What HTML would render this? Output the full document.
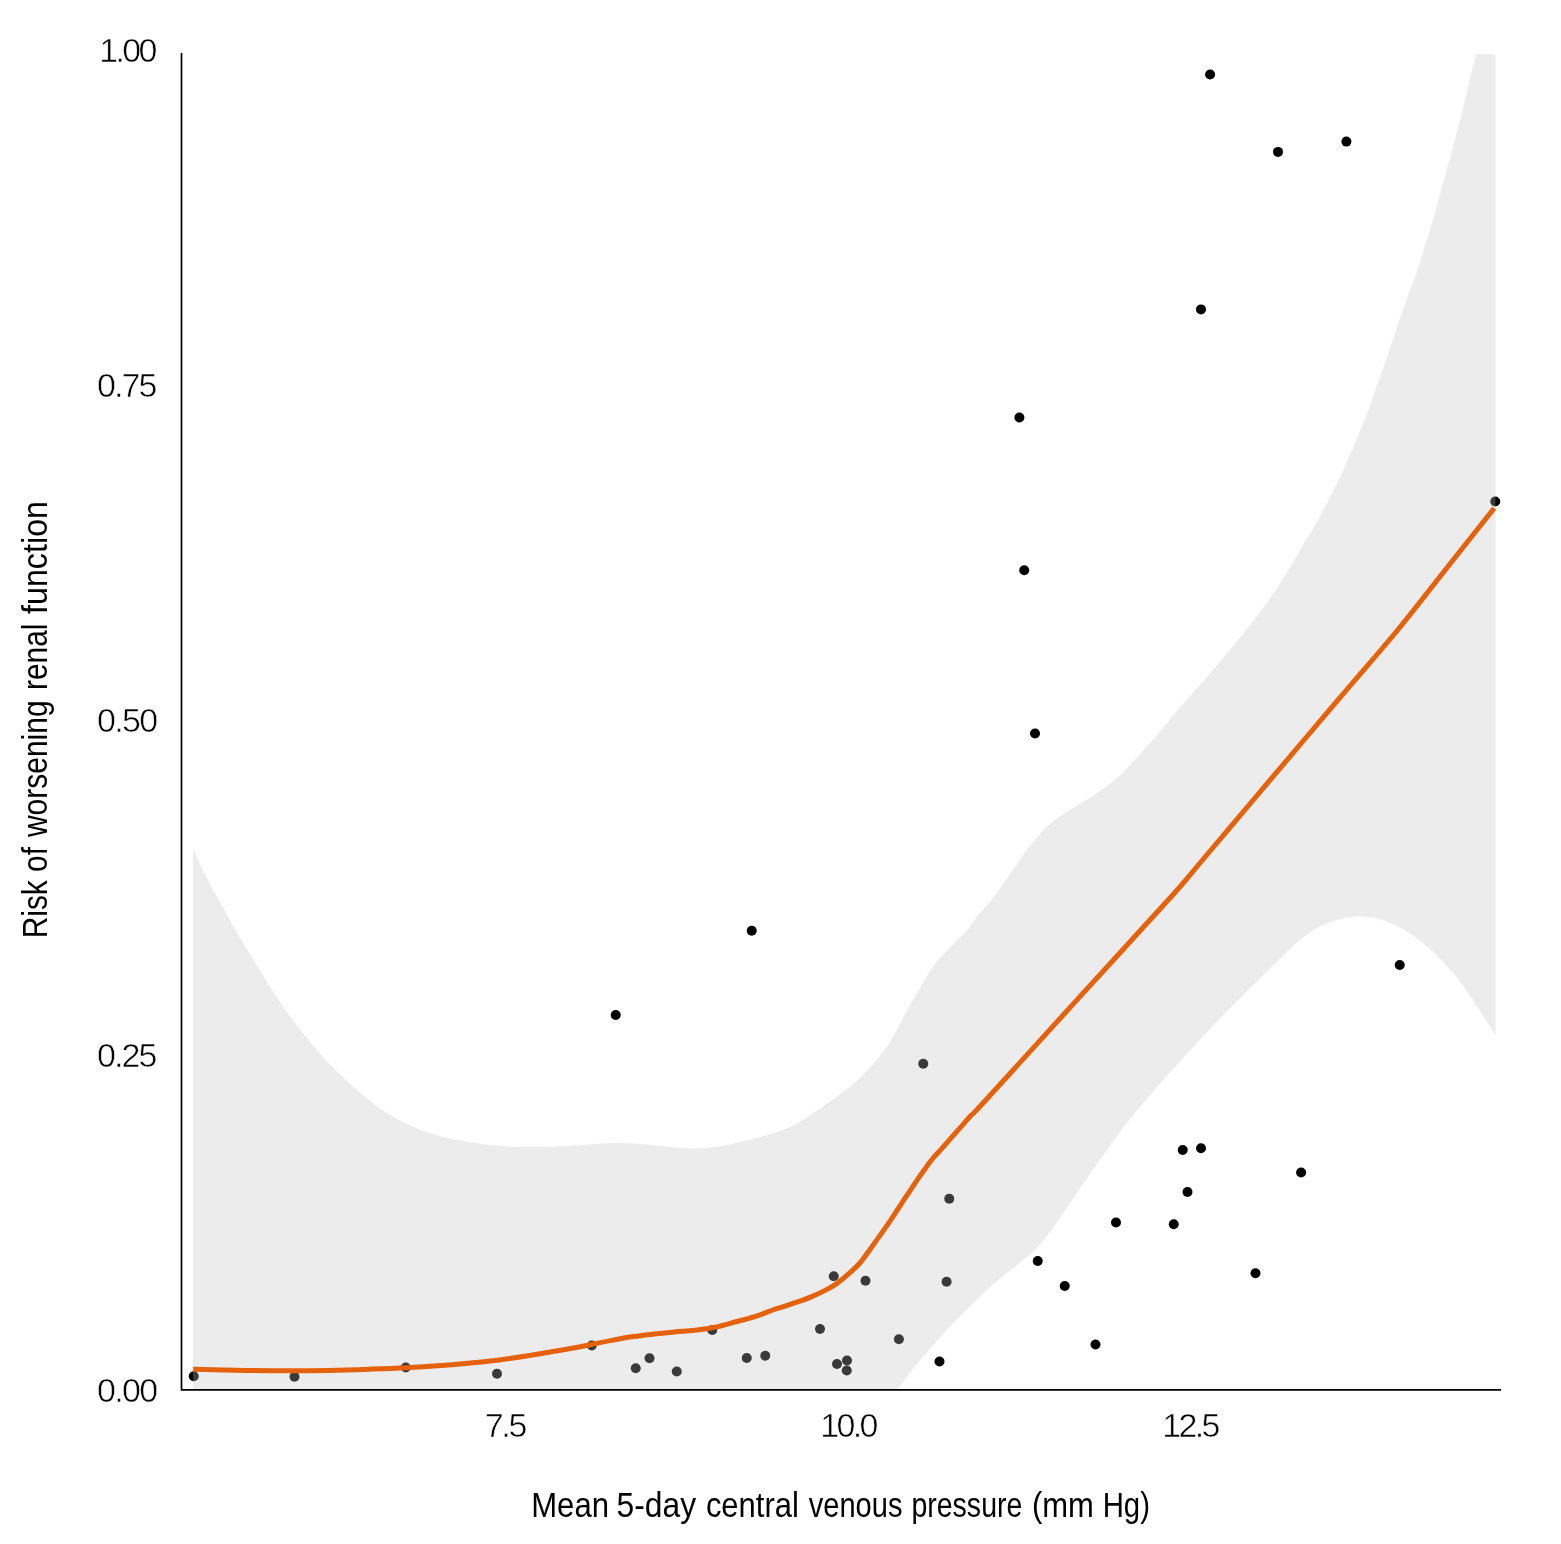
<!DOCTYPE html>
<html lang="en">
<head>
<meta charset="utf-8">
<title>Risk of worsening renal function vs mean 5-day central venous pressure</title>
<style>
html,body{margin:0;padding:0;background:#fff;}
body{width:1561px;height:1544px;overflow:hidden;}
svg{display:block;}
</style>
</head>
<body>
<svg width="1561" height="1544" viewBox="0 0 1561 1544">
<rect width="1561" height="1544" fill="#fff"/>
<g fill="#000"><circle cx="1210.10" cy="74.50" r="5"/><circle cx="1278.00" cy="151.90" r="5"/><circle cx="1346.40" cy="141.60" r="5"/><circle cx="1201.00" cy="309.40" r="5"/><circle cx="1019.40" cy="417.50" r="5"/><circle cx="1024.25" cy="570.25" r="5"/><circle cx="1035.00" cy="733.50" r="5"/><circle cx="1495.25" cy="501.50" r="5"/><circle cx="751.75" cy="930.75" r="5"/><circle cx="615.75" cy="1015.00" r="5"/><circle cx="1399.75" cy="965.00" r="5"/><circle cx="923.25" cy="1063.75" r="5"/><circle cx="949.25" cy="1198.75" r="5"/><circle cx="1182.75" cy="1150.00" r="5"/><circle cx="1201.00" cy="1148.25" r="5"/><circle cx="1301.10" cy="1172.50" r="5"/><circle cx="1187.50" cy="1192.00" r="5"/><circle cx="193.75" cy="1376.25" r="5"/><circle cx="294.50" cy="1376.75" r="5"/><circle cx="405.75" cy="1367.50" r="5"/><circle cx="497.00" cy="1373.75" r="5"/><circle cx="833.75" cy="1276.25" r="5"/><circle cx="865.50" cy="1280.75" r="5"/><circle cx="946.60" cy="1281.75" r="5"/><circle cx="820.00" cy="1329.00" r="5"/><circle cx="898.90" cy="1339.25" r="5"/><circle cx="712.25" cy="1330.00" r="5"/><circle cx="591.75" cy="1345.50" r="5"/><circle cx="649.50" cy="1358.25" r="5"/><circle cx="635.75" cy="1368.25" r="5"/><circle cx="676.75" cy="1371.50" r="5"/><circle cx="746.75" cy="1358.00" r="5"/><circle cx="765.25" cy="1355.75" r="5"/><circle cx="837.00" cy="1364.00" r="5"/><circle cx="847.00" cy="1360.50" r="5"/><circle cx="846.75" cy="1370.50" r="5"/><circle cx="939.50" cy="1361.50" r="5"/><circle cx="1037.75" cy="1261.00" r="5"/><circle cx="1064.75" cy="1286.00" r="5"/><circle cx="1095.50" cy="1344.50" r="5"/><circle cx="1116.00" cy="1222.50" r="5"/><circle cx="1173.75" cy="1224.25" r="5"/><circle cx="1255.50" cy="1273.25" r="5"/></g>
<path d="M193.00,848.75 C195.00,853.04 198.67,862.29 205.00,874.50 C211.33,886.71 222.45,907.00 231.00,922.00 C239.55,937.00 247.88,950.75 256.30,964.50 C264.72,978.25 273.22,992.42 281.50,1004.50 C289.78,1016.58 297.92,1027.00 306.00,1037.00 C314.08,1047.00 321.83,1055.96 330.00,1064.50 C338.17,1073.04 346.67,1080.96 355.00,1088.25 C363.33,1095.54 371.67,1102.42 380.00,1108.25 C388.33,1114.08 396.67,1119.08 405.00,1123.25 C413.33,1127.42 421.67,1130.54 430.00,1133.25 C438.33,1135.96 446.67,1137.75 455.00,1139.50 C463.33,1141.25 471.67,1142.62 480.00,1143.75 C488.33,1144.88 496.67,1145.71 505.00,1146.25 C513.33,1146.79 519.17,1147.04 530.00,1147.00 C540.83,1146.96 559.17,1146.50 570.00,1146.00 C580.83,1145.50 586.67,1144.50 595.00,1144.00 C603.33,1143.50 611.67,1142.93 620.00,1143.00 C628.33,1143.07 636.67,1143.73 645.00,1144.40 C653.33,1145.07 661.67,1146.32 670.00,1147.00 C678.33,1147.68 686.67,1148.62 695.00,1148.50 C703.33,1148.38 712.50,1147.33 720.00,1146.25 C727.50,1145.17 733.25,1143.56 740.00,1142.00 C746.75,1140.44 753.67,1138.78 760.50,1136.90 C767.33,1135.02 775.87,1132.42 781.00,1130.70 C786.13,1128.98 787.88,1128.22 791.30,1126.60 C794.72,1124.98 798.08,1123.05 801.50,1121.00 C804.92,1118.95 808.38,1116.62 811.80,1114.30 C815.22,1111.98 818.58,1109.48 822.00,1107.10 C825.42,1104.72 828.88,1102.47 832.30,1100.00 C835.72,1097.53 839.55,1094.52 842.50,1092.30 C845.45,1090.08 847.02,1089.18 850.00,1086.70 C852.98,1084.22 857.38,1080.25 860.40,1077.40 C863.42,1074.55 865.52,1072.37 868.10,1069.60 C870.68,1066.83 873.30,1063.92 875.90,1060.80 C878.50,1057.68 881.10,1054.45 883.70,1050.90 C886.30,1047.35 888.92,1043.82 891.50,1039.50 C894.08,1035.18 896.62,1029.83 899.20,1025.00 C901.78,1020.17 904.25,1015.45 907.00,1010.50 C909.75,1005.55 912.95,1000.08 915.70,995.30 C918.45,990.52 920.90,986.12 923.50,981.80 C926.10,977.48 928.72,973.20 931.30,969.40 C933.88,965.60 936.42,962.12 939.00,959.00 C941.58,955.88 944.20,953.47 946.80,950.70 C949.40,947.93 952.00,944.98 954.60,942.40 C957.20,939.82 960.25,937.27 962.40,935.20 C964.55,933.13 965.32,932.72 967.50,930.00 C969.68,927.28 972.87,922.30 975.50,918.90 C978.13,915.50 980.70,912.70 983.30,909.60 C985.90,906.50 988.50,903.58 991.10,900.30 C993.70,897.02 996.32,893.45 998.90,889.90 C1001.48,886.35 1004.02,882.72 1006.60,879.00 C1009.18,875.28 1011.80,871.32 1014.40,867.60 C1017.00,863.88 1019.67,860.20 1022.20,856.70 C1024.73,853.20 1026.22,850.84 1029.60,846.60 C1032.98,842.36 1038.27,835.68 1042.50,831.25 C1046.73,826.82 1050.83,823.33 1055.00,820.00 C1059.17,816.67 1063.33,813.96 1067.50,811.25 C1071.67,808.54 1075.83,806.25 1080.00,803.75 C1084.17,801.25 1088.33,798.96 1092.50,796.25 C1096.67,793.54 1100.83,790.62 1105.00,787.50 C1109.17,784.38 1113.33,781.25 1117.50,777.50 C1121.67,773.75 1125.83,769.38 1130.00,765.00 C1134.17,760.62 1138.33,755.83 1142.50,751.25 C1146.67,746.67 1150.83,742.29 1155.00,737.50 C1159.17,732.71 1163.33,727.50 1167.50,722.50 C1171.67,717.50 1172.92,715.67 1180.00,707.50 C1187.08,699.33 1200.83,684.17 1210.00,673.50 C1219.17,662.83 1226.67,653.71 1235.00,643.50 C1243.33,633.29 1251.67,623.50 1260.00,612.25 C1268.33,601.00 1278.23,586.51 1285.00,576.00 C1291.77,565.49 1295.47,557.87 1300.60,549.20 C1305.73,540.53 1311.03,532.42 1315.80,524.00 C1320.57,515.58 1325.00,506.83 1329.20,498.70 C1333.40,490.57 1337.07,483.62 1341.00,475.20 C1344.93,466.78 1348.87,457.47 1352.80,448.20 C1356.73,438.93 1360.67,429.70 1364.60,419.60 C1368.53,409.50 1372.48,398.53 1376.40,387.60 C1380.32,376.67 1384.18,365.50 1388.10,354.00 C1392.02,342.50 1396.25,329.27 1399.90,318.60 C1403.55,307.93 1407.02,298.27 1410.00,290.00 C1412.98,281.73 1415.08,277.00 1417.80,269.00 C1420.52,261.00 1423.48,251.27 1426.30,242.00 C1429.12,232.73 1431.90,223.22 1434.70,213.40 C1437.50,203.58 1440.30,193.20 1443.10,183.10 C1445.90,173.00 1448.70,163.18 1451.50,152.80 C1454.30,142.42 1457.08,132.02 1459.90,120.80 C1462.72,109.58 1465.73,96.58 1468.40,85.50 C1471.07,74.42 1474.65,59.50 1475.90,54.30 L1495.50,54.50 L1495.50,1035.50 C1492.73,1031.13 1484.12,1017.35 1478.90,1009.30 C1473.68,1001.25 1469.12,993.95 1464.20,987.20 C1459.28,980.45 1454.32,974.43 1449.40,968.80 C1444.48,963.17 1439.60,958.07 1434.70,953.40 C1429.80,948.73 1424.92,944.62 1420.00,940.80 C1415.08,936.98 1410.12,933.43 1405.20,930.50 C1400.28,927.57 1395.40,925.23 1390.50,923.20 C1385.60,921.17 1380.47,919.42 1375.80,918.30 C1371.13,917.18 1366.18,916.75 1362.50,916.50 C1358.82,916.25 1357.63,916.30 1353.70,916.80 C1349.77,917.30 1343.82,918.20 1338.90,919.50 C1333.98,920.80 1329.10,922.40 1324.20,924.60 C1319.30,926.80 1314.42,929.38 1309.50,932.70 C1304.58,936.02 1299.87,939.87 1294.70,944.50 C1289.53,949.13 1284.20,954.95 1278.50,960.50 C1272.80,966.05 1266.20,972.22 1260.50,977.80 C1254.80,983.38 1249.70,988.62 1244.30,994.00 C1238.90,999.38 1233.50,1004.57 1228.10,1010.10 C1222.70,1015.63 1217.30,1021.52 1211.90,1027.20 C1206.50,1032.88 1201.10,1038.40 1195.70,1044.20 C1190.30,1050.00 1184.90,1056.07 1179.50,1062.00 C1174.10,1067.93 1168.68,1073.73 1163.30,1079.80 C1157.92,1085.87 1152.58,1092.07 1147.20,1098.40 C1141.82,1104.73 1136.40,1111.05 1131.00,1117.80 C1125.60,1124.55 1120.27,1131.48 1114.80,1138.90 C1109.33,1146.32 1103.03,1155.48 1098.20,1162.30 C1093.37,1169.12 1090.03,1173.70 1085.80,1179.80 C1081.57,1185.90 1077.05,1192.62 1072.80,1198.90 C1068.55,1205.18 1064.45,1211.55 1060.30,1217.50 C1056.15,1223.45 1052.05,1229.28 1047.90,1234.60 C1043.75,1239.92 1040.07,1244.73 1035.40,1249.40 C1030.73,1254.07 1025.07,1258.33 1019.90,1262.60 C1014.73,1266.87 1009.58,1270.73 1004.40,1275.00 C999.22,1279.27 993.98,1283.53 988.80,1288.20 C983.62,1292.87 978.48,1297.93 973.30,1303.00 C968.12,1308.07 962.88,1313.28 957.70,1318.60 C952.52,1323.92 947.38,1329.20 942.20,1334.90 C937.02,1340.60 931.78,1346.72 926.60,1352.80 C921.42,1358.88 915.93,1365.37 911.10,1371.40 C906.27,1377.43 899.85,1386.07 897.60,1389.00 L193.00,1389.00 Z" fill="#bfbfbf" fill-opacity="0.3"/>
<path d="M193.20,1369.20 C202.08,1369.40 230.78,1370.13 246.50,1370.40 C262.22,1370.67 273.83,1370.80 287.50,1370.80 C301.17,1370.80 314.83,1370.67 328.50,1370.40 C342.17,1370.13 356.52,1369.66 369.50,1369.20 C382.48,1368.74 392.73,1368.40 406.40,1367.65 C420.07,1366.90 437.57,1365.79 451.50,1364.69 C465.43,1363.60 476.75,1362.65 490.00,1361.08 C503.25,1359.51 517.33,1357.38 531.00,1355.25 C544.67,1353.12 561.75,1350.14 572.00,1348.30 C582.25,1346.46 585.67,1345.59 592.50,1344.23 C599.33,1342.87 606.17,1341.43 613.00,1340.16 C619.83,1338.89 626.67,1337.61 633.50,1336.59 C640.33,1335.57 647.17,1334.85 654.00,1334.07 C660.83,1333.29 667.67,1332.56 674.50,1331.93 C681.33,1331.30 688.17,1331.08 695.00,1330.28 C701.83,1329.48 708.67,1328.57 715.50,1327.14 C722.33,1325.72 730.58,1323.16 736.00,1321.73 C741.42,1320.30 744.00,1319.69 748.00,1318.54 C752.00,1317.39 755.87,1316.27 760.00,1314.85 C764.13,1313.43 768.53,1311.48 772.80,1310.00 C777.07,1308.52 781.33,1307.37 785.60,1305.98 C789.87,1304.59 794.13,1303.20 798.40,1301.68 C802.67,1300.16 806.92,1298.69 811.20,1296.89 C815.48,1295.09 819.82,1293.14 824.10,1290.90 C828.38,1288.66 832.63,1286.42 836.90,1283.43 C841.17,1280.44 845.87,1276.37 849.70,1272.96 C853.53,1269.56 856.53,1266.88 859.90,1263.00 C863.27,1259.12 866.93,1253.73 869.90,1249.66 C872.87,1245.60 875.10,1242.27 877.70,1238.61 C880.30,1234.94 882.90,1231.43 885.50,1227.67 C888.10,1223.91 890.72,1219.96 893.30,1216.06 C895.88,1212.16 898.42,1208.18 901.00,1204.27 C903.58,1200.36 906.20,1196.50 908.80,1192.59 C911.40,1188.68 914.00,1184.61 916.60,1180.80 C919.20,1176.99 921.82,1173.30 924.40,1169.71 C926.98,1166.12 929.52,1162.43 932.10,1159.24 C934.68,1156.05 937.30,1153.47 939.90,1150.57 C942.50,1147.66 945.12,1144.73 947.70,1141.81 C950.28,1138.89 952.82,1135.98 955.40,1133.07 C957.98,1130.15 960.60,1127.24 963.20,1124.32 C965.80,1121.40 967.33,1119.50 971.00,1115.57 C974.67,1111.63 967.62,1119.90 985.20,1100.71 C1002.78,1081.52 1045.97,1033.88 1076.50,1000.40 C1107.03,966.91 1147.82,922.70 1168.40,899.80 C1188.98,876.90 1186.07,879.38 1200.00,863.00 C1213.93,846.62 1234.67,822.00 1252.00,801.50 C1269.33,781.00 1287.53,759.42 1304.00,740.00 C1320.47,720.58 1335.18,703.33 1350.80,685.00 C1366.42,666.67 1381.83,649.33 1397.70,630.00 C1413.57,610.67 1429.92,589.30 1446.00,569.00 C1462.08,548.70 1486.17,518.33 1494.20,508.20" fill="none" stroke="#e5610b" stroke-width="5" stroke-linejoin="round"/>
<path d="M181.5,53 V1389.95 H1501" fill="none" stroke="#000" stroke-width="1.7" stroke-linejoin="miter"/>
<g font-family="'Liberation Sans', sans-serif" font-size="34" fill="#000" stroke="#fff" stroke-width="0.55">
<text x="99.20" y="62" textLength="58.18" lengthAdjust="spacing">1.00</text>
<text x="97.00" y="397" textLength="60.39" lengthAdjust="spacing">0.75</text>
<text x="97.00" y="732" textLength="61.18" lengthAdjust="spacing">0.50</text>
<text x="97.00" y="1067" textLength="60.39" lengthAdjust="spacing">0.25</text>
<text x="97.00" y="1402" textLength="61.18" lengthAdjust="spacing">0.00</text>
<text x="484.80" y="1437" textLength="42.60" lengthAdjust="spacing">7.5</text>
<text x="820.20" y="1437" textLength="58.18" lengthAdjust="spacing">10.0</text>
<text x="1162.30" y="1437" textLength="58.02" lengthAdjust="spacing">12.5</text>
</g>
<g font-family="'Liberation Sans', sans-serif" font-size="35" fill="#000" stroke="#fff" stroke-width="0">
<text y="1517"><tspan x="531.20" textLength="77.81" lengthAdjust="spacingAndGlyphs">Mean</tspan> <tspan x="616.50" textLength="79.55" lengthAdjust="spacingAndGlyphs">5-day</tspan> <tspan x="705.90" textLength="92.91" lengthAdjust="spacingAndGlyphs">central</tspan> <tspan x="808.70" textLength="93.73" lengthAdjust="spacingAndGlyphs">venous</tspan> <tspan x="911.40" textLength="110.96" lengthAdjust="spacingAndGlyphs">pressure</tspan> <tspan x="1031.90" textLength="61.93" lengthAdjust="spacingAndGlyphs">(mm</tspan> <tspan x="1102.70" textLength="47.27" lengthAdjust="spacingAndGlyphs">Hg)</tspan></text>
<text transform="translate(47,0) rotate(-90)" y="0"><tspan x="-938.30" textLength="91.33" lengthAdjust="spacingAndGlyphs">Risk of</tspan> <tspan x="-837.10" textLength="136.73" lengthAdjust="spacingAndGlyphs">worsening</tspan> <tspan x="-690.00" textLength="66.37" lengthAdjust="spacingAndGlyphs">renal</tspan> <tspan x="-614.00" textLength="113.03" lengthAdjust="spacingAndGlyphs">function</tspan></text>
</g>
</svg>
</body>
</html>
